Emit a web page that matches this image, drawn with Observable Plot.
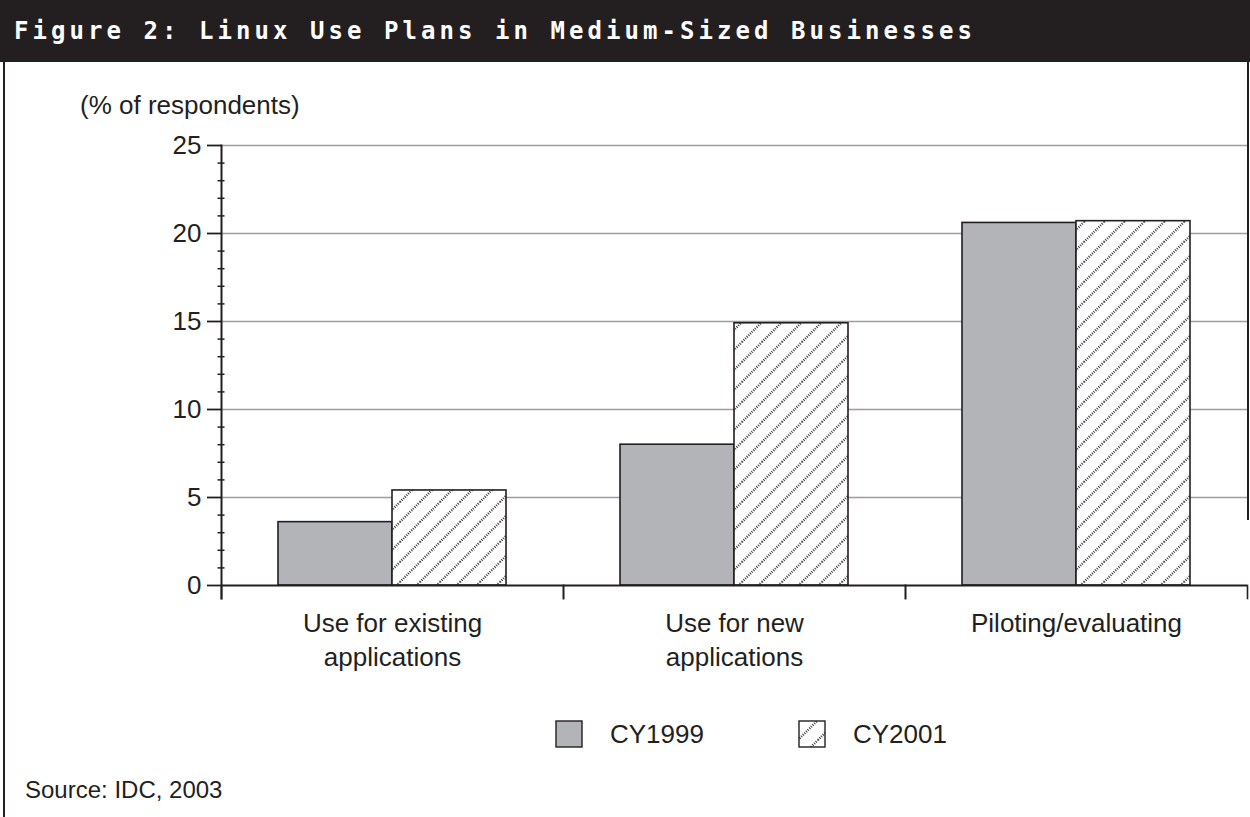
<!DOCTYPE html>
<html>
<head>
<meta charset="utf-8">
<script src="https://cdn.jsdelivr.net/npm/d3@7"></script>
<script src="https://cdn.jsdelivr.net/npm/@observablehq/plot@0.6"></script>
<style>
  html, body { margin: 0; padding: 0; background: #fff; }
  #page { position: relative; width: 1250px; height: 817px; overflow: hidden; background: #fff;
          color: #231f20; font-family: "Liberation Sans", Arial, sans-serif; }
  #title { position: absolute; left: 0; top: 0; width: 1250px; height: 62px; background: #231f20;
           color: #fff; font: bold 24px "DejaVu Sans Mono", monospace; letter-spacing: 4.05px;
           line-height: 62px; padding-left: 14px; box-sizing: border-box; white-space: nowrap; }
  .border { position: absolute; background: #231f20; width: 2px; }
  #ylabel { position: absolute; left: 80px; top: 90px; font-size: 26px; line-height: 30px; white-space: nowrap; }
  #chart { position: absolute; left: 0; top: 62px; }
  #legend { position: absolute; left: 555px; top: 720px; display: flex; align-items: center; font-size: 26px; line-height: 28px; }
  #legend .item { display: flex; align-items: center; margin-right: 94px; }
  #legend .item svg { margin-right: 27px; display: block; }
  #source { position: absolute; left: 25px; top: 776px; font-size: 24px; line-height: 28px; white-space: nowrap; }
</style>
</head>
<body>
<div id="page">
  <div id="title">Figure 2: Linux Use Plans in Medium-Sized Businesses</div>
  <div class="border" style="left:3px; top:62px; height:755px;"></div>
  <div class="border" style="left:1247px; top:62px; height:458px;"></div>
  <div id="ylabel">(% of respondents)</div>
  <div id="chart"></div>
  <div id="legend"></div>
  <div id="source">Source: IDC, 2003</div>
</div>
<script>
// Survey answers, percent of respondents
const categories = ["Use for existing\napplications", "Use for new\napplications", "Piloting/evaluating"];
const series = ["CY1999", "CY2001"];
const cy1999 = [3.6, 8.0, 20.6];
const cy2001 = [5.4, 14.9, 20.7];

// Axis ticks
const yTicks = [0, 5, 10, 15, 20, 25];
const yMinorTicks = [1, 2, 3, 4, 6, 7, 8, 9, 11, 12, 13, 14, 16, 17, 18, 19, 21, 22, 23, 24];

// Series fills: solid grey and a dotted diagonal hatch
const fills = ["#b3b4b7", "url(#hatch)"];
const ink = "#231f20";

const rows = categories.flatMap((category, i) => [
  {category, series: series[0], value: cy1999[i]},
  {category, series: series[1], value: cy2001[i]}
]);

const W = 1250, H = 628, mTop = 83, mBottom = 105, mLeft = 221, mRight = 3;
const innerH = H - mTop - mBottom;

const chart = Plot.plot({
  width: W,
  height: H,
  marginTop: mTop,
  marginBottom: mBottom,
  marginLeft: mLeft,
  marginRight: mRight,
  style: {fontFamily: "'Liberation Sans', Arial, sans-serif", fontSize: "26px", color: ink, background: "transparent", overflow: "visible"},
  fx: {domain: categories, padding: 0, label: null},
  x: {domain: series, paddingInner: 0, paddingOuter: 0.5, axis: null},
  y: {domain: [0, 25], label: null},
  color: {domain: series, range: fills},
  marks: [
    Plot.gridY(yTicks.filter(d => d > 0), {stroke: "#9d9d9d", strokeOpacity: 1, strokeWidth: 1.3}),
    Plot.barY(rows, {fx: "category", x: "series", y: "value", fill: "series", stroke: ink, strokeWidth: 1.6}),
    Plot.ruleY([0], {stroke: ink, strokeWidth: 2}),
    // y axis line, running a little below the baseline
    Plot.frame({anchor: "left", facetAnchor: "left", insetBottom: -13, stroke: ink, strokeWidth: 2}),
    // group separator ticks below the baseline
    Plot.frame({anchor: "left", insetTop: innerH, insetBottom: -13, stroke: ink, strokeWidth: 1.6}),
    Plot.frame({anchor: "right", insetTop: innerH, insetBottom: -13, stroke: ink, strokeWidth: 1.6}),
    Plot.axisY(yTicks, {tickSize: 14, tickPadding: 6, fontSize: 26, label: null, stroke: ink, strokeWidth: 1.8}),
    Plot.axisY(yMinorTicks, {tickSize: 7, dx: 3.5, tickFormat: () => "", label: null, stroke: ink, strokeWidth: 1.5}),
    Plot.axisFx({anchor: "bottom", tickSize: 0, tickPadding: 22, lineHeight: 1.32, fontSize: 26, label: null})
  ]
});

// Hatch pattern used by the CY2001 bars and legend swatch
const defs = d3.select(chart).insert("defs", ":first-child");
const pat = defs.append("pattern")
  .attr("id", "hatch")
  .attr("patternUnits", "userSpaceOnUse")
  .attr("width", 20)
  .attr("height", 20);
pat.append("rect").attr("width", 20).attr("height", 20).attr("fill", "#fff");
pat.append("path")
  .attr("d", "M-5,5L5,-5M0,20L20,0M15,25L25,15")
  .attr("fill", "none")
  .attr("stroke", "#3a3a3a")
  .attr("stroke-width", 2.4)
  .attr("stroke-dasharray", "1,1.3");

document.getElementById("chart").appendChild(chart);

// Legend
const legend = d3.select("#legend");
series.forEach((name, i) => {
  const item = legend.append("div").attr("class", "item");
  const sw = item.append("svg").attr("width", 28).attr("height", 28);
  sw.append("rect").attr("x", 1).attr("y", 1).attr("width", 26).attr("height", 26)
    .attr("fill", fills[i]).attr("stroke", ink).attr("stroke-width", 1.4);
  item.append("span").text(name);
});
</script>
</body>
</html>
